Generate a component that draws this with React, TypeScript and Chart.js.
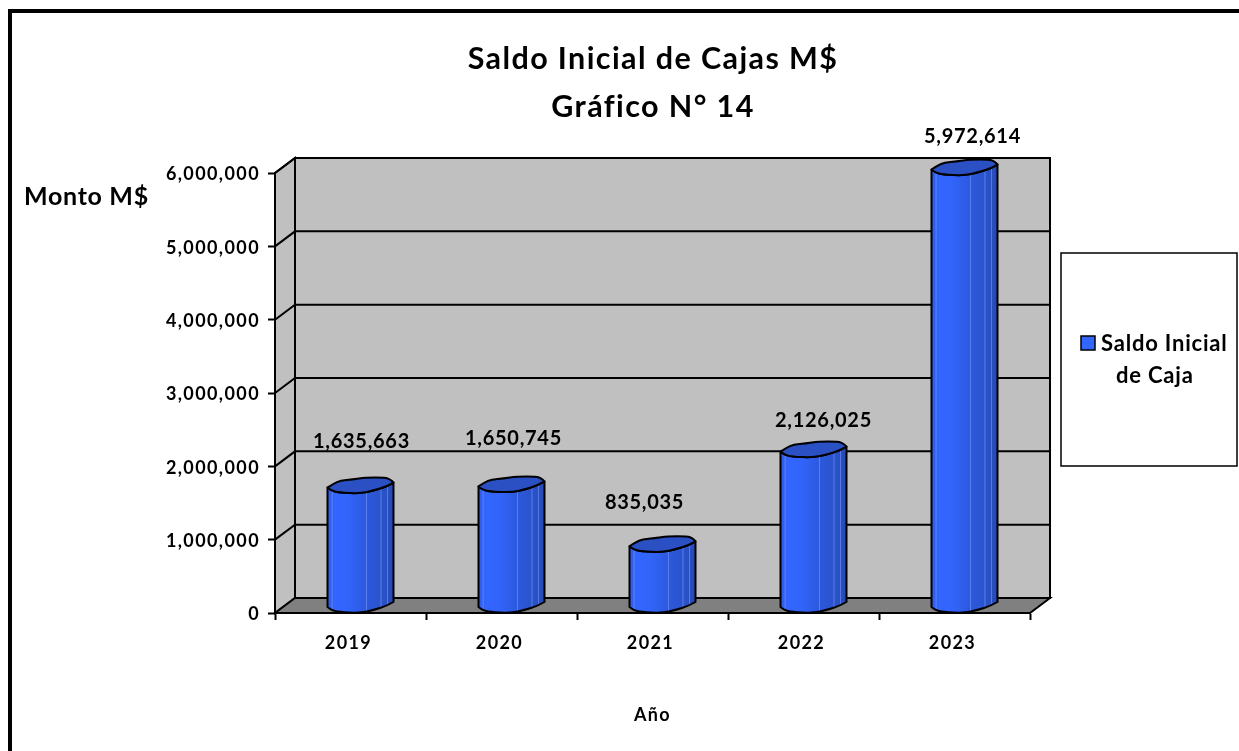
import React, { useEffect, useRef } from "react";
import { Chart, BarController, BarElement, CategoryScale, LinearScale, Title } from "chart.js";

const categories = ["2019", "2020", "2021", "2022", "2023"];
const saldoInicial = [1635663, 1650745, 835035, 2126025, 5972614];
const seriesName = "Saldo Inicial de Caja";
const legendLines = ["Saldo Inicial", "de Caja"];
const titleLines = ["Saldo Inicial de Cajas M$", "Gráfico N° 14"];
const yAxisTitle = "Monto M$";
const xAxisTitle = "Año";
const yTicksMax = 6000000;
const yTicksStep = 1000000;

const FONT = "Lato, Carlito, sans-serif";
const WIDTH = 1239;
const HEIGHT = 751;
const DEPTH_X = 20;
const DEPTH_Y = 15;

// label placement relative to the bar's value point, as in the source
const labelDX = [11, 12, -8, 20, 18];
const labelDY = [-52, -53, -49, -37, -38];

// outline of the slightly irregular cylinder cap, relative to its centre, in px at 33px half width
const capBack = [[-33, 2], [-27, -2], [-20, -5], [-8, -6], [5, -8], [25, -8], [30, -6], [33, -3]];
const capFront = [[33, -3], [26, 1], [13, 5], [0, 8], [-22, 7], [-29, 5], [-33, 2]];

function smooth(ctx: CanvasRenderingContext2D, pts: number[][], move: boolean) {
  if (move) ctx.moveTo(pts[0][0], pts[0][1]);
  else ctx.lineTo(pts[0][0], pts[0][1]);
  for (let i = 1; i < pts.length - 1; i++) {
    const mx = (pts[i][0] + pts[i + 1][0]) / 2;
    const my = (pts[i][1] + pts[i + 1][1]) / 2;
    ctx.quadraticCurveTo(pts[i][0], pts[i][1], mx, my);
  }
  const l = pts[pts.length - 1];
  ctx.lineTo(l[0], l[1]);
}

class CylinderBar extends BarElement {
  static id = "cylinderBar";
  draw(ctx: CanvasRenderingContext2D) {
    const { x, y, base, width } = (this as any).getProps(["x", "y", "base", "width"], true);
    const half = width / 2;
    const k = half / 33;
    const cx = x + DEPTH_X / 2;
    const topC = y - DEPTH_Y / 2;
    const baseC = base - DEPTH_Y / 2;
    const map = (arr: number[][], cy: number) => arr.map(([a, b]) => [cx + a * k, cy + b]);
    const left = cx - half;
    const grad = ctx.createLinearGradient(left, 0, left + width, 0);
    grad.addColorStop(0, "#2f5ce6");
    grad.addColorStop(0.12, "#3366ff");
    grad.addColorStop(0.32, "#3264fa");
    grad.addColorStop(0.6, "#2c58dc");
    grad.addColorStop(0.85, "#2a52c8");
    grad.addColorStop(1, "#2648b4");

    ctx.save();
    ctx.lineWidth = 2;
    ctx.lineJoin = "round";
    ctx.strokeStyle = "#000";

    const body = () => {
      ctx.beginPath();
      smooth(ctx, map(capFront, topC).reverse(), true);
      smooth(ctx, map(capFront, baseC), false);
      ctx.closePath();
    };
    body();
    ctx.fillStyle = grad;
    ctx.fill();
    ctx.save();
    ctx.clip();
    ctx.lineWidth = 1;
    ctx.strokeStyle = "rgba(130,160,255,0.55)";
    for (const f of [0.07, 0.59, 0.81, 0.91]) {
      ctx.beginPath();
      ctx.moveTo(left + width * f, topC - 10);
      ctx.lineTo(left + width * f, base);
      ctx.stroke();
    }
    ctx.restore();
    body();
    ctx.stroke();

    ctx.beginPath();
    smooth(ctx, map(capBack, topC), true);
    smooth(ctx, map(capFront, topC), false);
    ctx.closePath();
    ctx.fillStyle = "#2a50c4";
    ctx.fill();
    ctx.stroke();
    ctx.restore();
  }
}

class CylinderController extends BarController {
  static id = "cylinder";
  static defaults = { ...(BarController as any).defaults, dataElementType: "cylinderBar" };
}

const decorPlugin = {
  id: "decor",
  afterLayout(chart: any) {
    // the title is centred on the chart frame, not on the plot
    const t = chart.titleBlock;
    if (t) {
      t.left = 0;
      t.right = 1306;
      t.width = 1306;
      t.top = 35;
    }
  },
  beforeDraw(chart: any) {
    const { ctx, chartArea: a, scales } = chart;
    const y = scales.y;
    ctx.save();
    ctx.fillStyle = "#fff";
    ctx.fillRect(0, 0, WIDTH, HEIGHT);

    // outer frame (right and bottom edges fall outside the picture)
    ctx.strokeStyle = "#000";
    ctx.lineWidth = 4;
    ctx.beginPath();
    ctx.moveTo(10, HEIGHT);
    ctx.lineTo(10, 11);
    ctx.lineTo(WIDTH, 11);
    ctx.stroke();

    const dx = DEPTH_X;
    const dy = DEPTH_Y;
    ctx.lineWidth = 2;
    const poly = (pts: number[][], fill: string) => {
      ctx.beginPath();
      pts.forEach((p, i) => (i ? ctx.lineTo(p[0], p[1]) : ctx.moveTo(p[0], p[1])));
      ctx.closePath();
      ctx.fillStyle = fill;
      ctx.fill();
      ctx.stroke();
    };
    poly([[a.left + dx, a.top - dy], [a.right + dx, a.top - dy], [a.right + dx, a.bottom - dy], [a.left + dx, a.bottom - dy]], "#c0c0c0");
    poly([[a.left, a.top], [a.left + dx, a.top - dy], [a.left + dx, a.bottom - dy], [a.left, a.bottom]], "#c0c0c0");
    poly([[a.left, a.bottom], [a.left + dx, a.bottom - dy], [a.right + dx, a.bottom - dy], [a.right, a.bottom]], "#808080");

    for (const tick of y.ticks) {
      const py = y.getPixelForValue(tick.value);
      if (tick.value === 0) continue;
      ctx.beginPath();
      ctx.moveTo(a.left, py);
      ctx.lineTo(a.left + dx, py - dy);
      ctx.lineTo(a.right + dx, py - dy);
      ctx.stroke();
    }

    // y axis title sits horizontally above the ticks
    ctx.fillStyle = "#000";
    ctx.textBaseline = "middle";
    ctx.textAlign = "left";
    ctx.letterSpacing = "0.7px";
    ctx.font = `bold 25px ${FONT}`;
    ctx.fillText(yAxisTitle, 24, 197);

    // legend
    ctx.fillStyle = "#fff";
    ctx.fillRect(1061, 253, 176, 213);
    ctx.lineWidth = 1.5;
    ctx.strokeRect(1061, 253, 176, 213);
    ctx.fillStyle = "#3366ff";
    ctx.fillRect(1081, 336, 14, 14);
    ctx.lineWidth = 1.5;
    ctx.strokeRect(1081, 336, 14, 14);
    ctx.fillStyle = "#000";
    ctx.letterSpacing = "0.8px";
    ctx.font = `bold 22px ${FONT}`;
    ctx.fillText(legendLines[0], 1101, 344);
    ctx.fillText(legendLines[1], 1116, 376);
    ctx.restore();
    // the axes and title that follow share the source's wide text tracking
    ctx.letterSpacing = "1.4px";
  },
  afterDatasetsDraw(chart: any) {
    const { ctx } = chart;
    const meta = chart.getDatasetMeta(0);
    ctx.save();
    ctx.fillStyle = "#000";
    ctx.textAlign = "center";
    ctx.textBaseline = "middle";
    ctx.letterSpacing = "0.7px";
    ctx.font = `bold 20px ${FONT}`;
    meta.data.forEach((el: any, i: number) => {
      ctx.fillText(saldoInicial[i].toLocaleString("en-US"), el.x + labelDX[i], el.y + labelDY[i]);
    });
    ctx.restore();
  },
};

Chart.register(CategoryScale, LinearScale, Title, BarController, BarElement, CylinderController, CylinderBar);

export default function App() {
  const ref = useRef<HTMLCanvasElement>(null);
  useEffect(() => {
    const chart = new Chart(ref.current as HTMLCanvasElement, {
      type: "cylinder" as any,
      data: {
        labels: categories,
        datasets: [
          {
            label: seriesName,
            data: saldoInicial,
            backgroundColor: "#3366ff",
            borderColor: "#000",
            barPercentage: 0.437,
            categoryPercentage: 1,
            clip: false,
          } as any,
        ],
      },
      plugins: [decorPlugin],
      options: {
        responsive: false,
        animation: false,
        layout: { padding: { top: 35, left: 135, right: 209, bottom: 0 } },
        plugins: {
          legend: { display: false },
          tooltip: { enabled: false },
          title: {
            display: true,
            text: titleLines,
            color: "#000",
            font: { family: FONT, size: 30.5, weight: "bold", lineHeight: 1.574 },
            padding: { top: 0, bottom: 42 },
          },
        },
        scales: {
          x: {
            type: "category",
            offset: true,
            border: { color: "#000", width: 2 },
            grid: { display: true, drawOnChartArea: false, drawTicks: true, tickLength: 7, tickWidth: 2, tickColor: "#000", offset: true },
            ticks: { color: "#000", padding: 12, labelOffset: -2, font: { family: FONT, size: 18, weight: "bold" }, maxRotation: 0 },
            title: {
              display: true,
              text: xAxisTitle,
              color: "#000",
              font: { family: FONT, size: 18, weight: "bold" },
              padding: { top: 19, bottom: 25 },
            },
            afterFit: (s: any) => {
              s.height = 138;
            },
          },
          y: {
            type: "linear",
            min: 0,
            max: yTicksMax,
            border: { color: "#000", width: 2 },
            grid: { display: true, drawOnChartArea: false, drawTicks: true, tickLength: 7, tickWidth: 2, tickColor: "#000" },
            ticks: {
              stepSize: yTicksStep,
              color: "#000",
              padding: 8,
              labelOffset: 1.5,
              font: { family: FONT, size: 18, weight: "bold" },
              callback: (v: any) => Number(v).toLocaleString("en-US"),
            },
            afterFit: (s: any) => {
              s.width = 140;
            },
          },
        },
      } as any,
    });
    return () => chart.destroy();
  }, []);
  return (
    <div style={{ position: "absolute", left: 0, top: 0, width: WIDTH, height: HEIGHT }}>
      <canvas ref={ref} width={WIDTH} height={HEIGHT} style={{ display: "block" }} />
    </div>
  );
}
